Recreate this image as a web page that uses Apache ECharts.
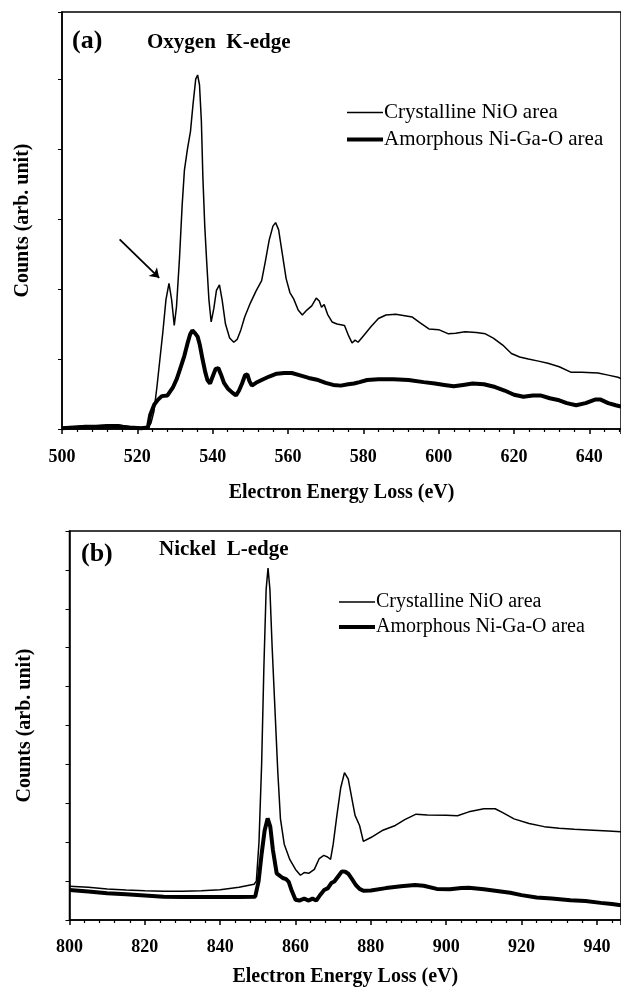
<!DOCTYPE html>
<html>
<head>
<meta charset="utf-8">
<script src="https://cdn.jsdelivr.net/npm/echarts@6/dist/echarts.min.js"></script>
<style>
  html, body { margin: 0; padding: 0; background: #fff; }
  #chart { width: 621px; height: 988px; }
</style>
</head>
<body>
<div id="chart"></div>
<script>
// (a) Oxygen K-edge, [eV, counts]
var crystallineO = [[500,0.02],[503,0.03],[506,0.05],[509,0.05],[512,0.06],[515,0.06],[518,0.03],[521,0.02],[522.8,0.02],[523.6,0.08],[524.4,0.25],[525.2,0.6],[526,1.0],[526.8,1.4],[527.6,1.85],[528.4,2.08],[529.1,1.85],[529.8,1.48],[530.4,1.75],[531.2,2.45],[531.9,3.2],[532.5,3.7],[533.3,4.0],[534.1,4.25],[534.8,4.65],[535.5,5.0],[536,5.06],[536.5,4.92],[537,4.4],[537.4,3.6],[537.9,2.9],[538.4,2.4],[539,1.85],[539.6,1.53],[540.3,1.72],[541,1.98],[541.8,2.06],[542.5,1.85],[543.4,1.5],[544.5,1.3],[545.6,1.24],[546.5,1.28],[547.5,1.42],[548.5,1.6],[550,1.8],[551.5,1.97],[553,2.12],[554,2.4],[555,2.7],[556,2.9],[556.7,2.95],[557.5,2.85],[558.5,2.5],[559.5,2.15],[560.5,1.95],[561.5,1.86],[562.7,1.7],[563.8,1.63],[565,1.7],[566.3,1.76],[567.5,1.87],[568.3,1.83],[568.9,1.74],[569.6,1.78],[570.5,1.64],[571.7,1.53],[573,1.5],[575,1.48],[576.1,1.33],[577,1.23],[577.8,1.27],[578.6,1.24],[580,1.33],[582,1.46],[584,1.58],[586,1.63],[588.6,1.64],[591,1.62],[593,1.6],[595,1.52],[597.4,1.43],[600,1.42],[602.6,1.36],[604.5,1.37],[607,1.39],[610,1.38],[612.4,1.36],[614.5,1.3],[617,1.2],[619.3,1.08],[621.5,1.03],[623.8,1.0],[626.5,0.97],[629,0.94],[632,0.89],[635.2,0.81],[638,0.81],[642.3,0.8],[645,0.77],[647.6,0.74],[648.4,0.72]];
var amorphousO = [[500,0.01],[503,0.02],[506,0.03],[510,0.03],[514,0.04],[518,0.02],[521,0.01],[522.8,0.02],[523.4,0.2],[524.5,0.35],[525.5,0.42],[526.5,0.47],[528,0.48],[529.5,0.6],[530.5,0.72],[531.6,0.9],[532.5,1.05],[533.3,1.22],[534,1.35],[534.6,1.41],[535.3,1.37],[536,1.32],[536.6,1.2],[537.3,1.0],[538,0.82],[538.6,0.7],[539.3,0.65],[540,0.75],[540.8,0.86],[541.5,0.87],[542.2,0.78],[543,0.66],[544,0.58],[545.2,0.52],[546.2,0.48],[547,0.55],[547.8,0.65],[548.6,0.77],[549.2,0.78],[549.8,0.68],[550.4,0.62],[551.5,0.66],[553,0.7],[555,0.75],[557,0.79],[559,0.8],[561,0.8],[563,0.77],[565.5,0.73],[568,0.7],[570,0.66],[572,0.63],[574,0.62],[576,0.64],[577.5,0.65],[579,0.67],[581,0.7],[584,0.71],[588,0.71],[592,0.7],[596,0.67],[599,0.65],[601.5,0.63],[604,0.61],[606.5,0.63],[609,0.65],[612,0.64],[615,0.6],[617.5,0.55],[620,0.49],[622.5,0.46],[625,0.48],[627,0.48],[629.5,0.44],[632,0.41],[634,0.37],[636.5,0.34],[639,0.37],[641.5,0.42],[643,0.42],[645,0.37],[647,0.34],[648.4,0.32]];
// arrow pointing at the pre-edge peak
var arrowO = [[515.3,2.71],[525.8,2.16]];

// (b) Nickel L-edge, [eV, counts]
var crystallineNi = [[800,0.87],[805,0.84],[810,0.8],[815,0.77],[820,0.75],[825,0.74],[830,0.74],[835,0.75],[840,0.78],[845,0.84],[849,0.92],[849.6,1.0],[850.3,2.0],[851,4.0],[851.6,6.5],[852.2,8.5],[852.7,9.05],[853.2,8.5],[853.8,7.0],[854.5,5.5],[855.3,3.8],[856,2.6],[857,1.95],[858.5,1.55],[860,1.3],[861.3,1.15],[862.3,1.22],[863.5,1.2],[865,1.3],[866.3,1.58],[867.5,1.66],[868.5,1.62],[869.3,1.56],[870,1.95],[871,2.7],[872,3.4],[873,3.79],[874,3.62],[875,3.1],[875.8,2.69],[877,2.43],[878,2.02],[880,2.12],[883,2.3],[886.5,2.43],[889,2.58],[892,2.72],[895,2.7],[900,2.69],[903,2.68],[906,2.78],[910,2.86],[913,2.86],[915,2.76],[918,2.6],[922,2.48],[926,2.4],[930,2.36],[934,2.33],[939,2.31],[943,2.29],[946.4,2.27]];
var amorphousNi = [[800,0.77],[805,0.73],[810,0.69],[815,0.66],[820,0.63],[825,0.6],[830,0.59],[835,0.59],[840,0.59],[845,0.59],[849.3,0.6],[850.2,1.0],[851,1.7],[851.8,2.3],[852.6,2.61],[853.3,2.4],[854,1.8],[855,1.2],[856.6,1.08],[857.5,1.05],[858.2,0.98],[859,0.75],[860,0.52],[861,0.5],[862.3,0.55],[863.5,0.5],[864.5,0.55],[865.5,0.5],[866.6,0.65],[867.6,0.77],[868.6,0.82],[869.5,0.95],[870.3,0.99],[871.3,1.12],[872.3,1.25],[873.2,1.24],[874,1.19],[875,1.05],[876,0.9],[877,0.8],[878,0.75],[880,0.76],[884,0.82],[888,0.87],[891.7,0.9],[894,0.88],[897.5,0.8],[901,0.79],[904,0.82],[906,0.83],[910,0.79],[914,0.74],[917,0.7],[920,0.64],[924,0.58],[928,0.55],[933,0.51],[937,0.49],[941,0.44],[944,0.41],[946.4,0.38]];

var seriesNames = ['Crystalline NiO area', 'Amorphous Ni-Ga-O area'];
var panelLabels = ['(a)', '(b)'];
var panelTitles = ['Oxygen  K-edge', 'Nickel  L-edge'];
var xTitle = 'Electron Energy Loss (eV)';
var yTitle = 'Counts (arb. unit)';

var serif = 'Liberation Serif';
var thinW = 1.5, thickW = 4;
var chart = echarts.init(document.getElementById('chart'), null, { renderer: 'canvas' });

function xAx(idx, min, max) {
  return {
    type: 'value', gridIndex: idx, min: min, max: max, interval: 20,
    name: xTitle, nameLocation: 'middle', nameGap: idx === 0 ? 54 : 47,
    nameTextStyle: { fontFamily: serif, fontWeight: 'bold', fontSize: 20, color: '#000' },
    axisLine: { lineStyle: { color: '#000', width: 1.5 } },
    axisTick: { length: 5, lineStyle: { color: '#000', width: 1.5 } },
    minorTick: { show: true, splitNumber: 5, length: 3, lineStyle: { color: '#000', width: 1.2 } },
    axisLabel: { fontFamily: serif, fontWeight: 'bold', fontSize: 18, color: '#000',
      margin: idx === 0 ? 19 : 18, showMaxLabel: false },
    splitLine: { show: false }
  };
}
function yAx(idx, max) {
  return {
    type: 'value', gridIndex: idx, min: 0, max: max, interval: 1,
    name: yTitle, nameLocation: 'middle', nameGap: idx === 0 ? 29 : 35, nameRotate: 90,
    nameTextStyle: { fontFamily: serif, fontWeight: 'bold', fontSize: 20, color: '#000' },
    axisLine: { lineStyle: { color: '#000', width: 1.5 } },
    axisTick: { length: 4, lineStyle: { color: '#000', width: 1 } },
    axisLabel: { show: false },
    splitLine: { show: false }
  };
}
function legend(top, left, size, gap) {
  return {
    data: [
      { name: seriesNames[0], lineStyle: { width: thinW, color: '#000' } },
      { name: seriesNames[1], lineStyle: { width: thickW, color: '#000' } }
    ],
    orient: 'vertical', top: top, left: left, padding: 0,
    itemWidth: 36, itemHeight: 10, itemGap: gap,
    itemStyle: { opacity: 0 },
    textStyle: { fontFamily: serif, fontSize: size, color: '#000', padding: [0, 0, 0, -4] },
    selectedMode: false
  };
}
function label(text, left, top, size) {
  return { text: text, left: left, top: top, padding: 0,
    textStyle: { fontFamily: serif, fontWeight: 'bold', fontSize: size, color: '#000' } };
}
function line(name, data, xi, w, extra) {
  var s = {
    name: name, type: 'line', xAxisIndex: xi, yAxisIndex: xi, data: data,
    showSymbol: false, symbol: 'none', silent: true,
    lineStyle: { color: '#000', width: w }, itemStyle: { color: '#000' }
  };
  return Object.assign(s, extra || {});
}

var option = {
  animation: false,
  backgroundColor: '#fff',
  grid: [
    { left: 62, top: 12, right: -2, height: 417, show: true, borderColor: '#000', borderWidth: 1.5 },
    { left: 69.5, top: 531, right: -2, height: 391, show: true, borderColor: '#000', borderWidth: 1.5 }
  ],
  xAxis: [xAx(0, 500, 648.4), xAx(1, 800, 946.4)],
  yAxis: [yAx(0, 5.96), yAx(1, 10)],
  legend: [legend(102, 345, 21, 6), legend(592, 337, 20, 5)],
  title: [
    label(panelLabels[0], 72, 28, 26),
    label(panelTitles[0], 147, 32.5, 21),
    label(panelLabels[1], 81, 541, 26),
    label(panelTitles[1], 159, 539.5, 21)
  ],
  series: [
    line(seriesNames[0], crystallineO, 0, thinW, {
      markLine: {
        silent: true, symbol: ['none', 'arrow'], symbolSize: 9,
        label: { show: false },
        lineStyle: { color: '#000', width: 1.8, type: 'solid' },
        data: [[{ coord: arrowO[0] }, { coord: arrowO[1] }]]
      }
    }),
    line(seriesNames[1], amorphousO, 0, thickW),
    line(seriesNames[0], crystallineNi, 1, thinW),
    line(seriesNames[1], amorphousNi, 1, thickW)
  ]
};
chart.setOption(option);
</script>
</body>
</html>
